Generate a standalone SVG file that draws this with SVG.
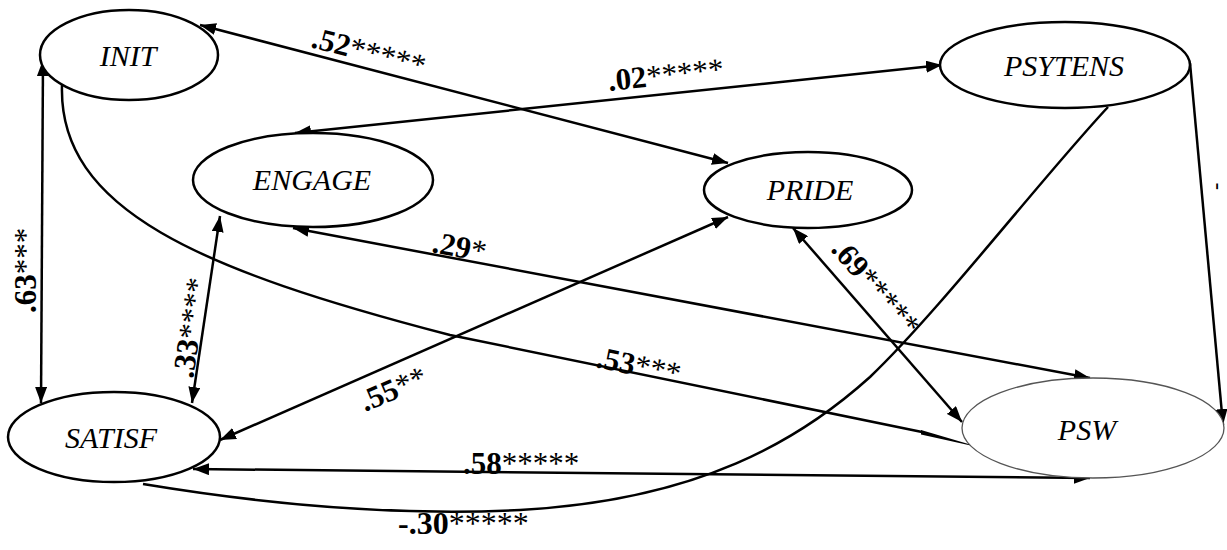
<svg xmlns="http://www.w3.org/2000/svg" width="1227" height="550" viewBox="0 0 1227 550">
<style>
.node{fill:#fff;stroke:#000;stroke-width:2.5}
.thin{fill:#fff;stroke:#555;stroke-width:1.3}
.nl{font-family:"Liberation Serif","Times New Roman",serif;font-style:italic;font-size:30px;fill:#000;text-anchor:middle}
.c{fill:none;stroke:#000;stroke-width:2.5}
.lb{font-family:"Liberation Serif","Times New Roman",serif;font-weight:bold;font-size:31px;fill:#000}
.st{font-weight:normal}
</style>
<defs>
<marker id="ah" markerUnits="userSpaceOnUse" markerWidth="17" markerHeight="12" refX="16" refY="6" orient="auto-start-reverse">
<path d="M0,0 L16,6 L0,12 z" fill="#000"/>
</marker>
</defs>
<g id="connectors">
<line class="c" x1="200" y1="25" x2="728" y2="163" marker-start="url(#ah)" marker-end="url(#ah)"/>
<line class="c" x1="295" y1="133" x2="942" y2="65" marker-start="url(#ah)" marker-end="url(#ah)"/>
<line class="c" x1="43" y1="60" x2="41" y2="403" marker-start="url(#ah)" marker-end="url(#ah)"/>
<path class="c" d="M62 85 C58 210 200 270 450 335 L922 432"/>
<polygon points="921,430 921,434.5 982,448" fill="#000"/>
<line class="c" x1="220" y1="216" x2="192" y2="403" marker-start="url(#ah)" marker-end="url(#ah)"/>
<line class="c" x1="728" y1="217" x2="220" y2="440" marker-start="url(#ah)" marker-end="url(#ah)"/>
<line class="c" x1="293" y1="228" x2="1090" y2="378" marker-start="url(#ah)" marker-end="url(#ah)"/>
<line class="c" x1="793" y1="228" x2="962" y2="422" marker-start="url(#ah)" marker-end="url(#ah)"/>
<path class="c" d="M143 484 C300 510 420 515 520 510 C700 500 800 440 870 377 C940 310 1040 180 1108 107"/>
<line class="c" x1="193" y1="469" x2="1090" y2="478" marker-start="url(#ah)" marker-end="url(#ah)"/>
<line class="c" x1="1190" y1="63" x2="1223" y2="425" marker-end="url(#ah)"/>
</g>
<g id="INIT"><ellipse class="node" cx="129" cy="55" rx="89" ry="45"/><text class="nl" x="128" y="66">INIT</text></g>
<g id="ENGAGE"><ellipse class="node" cx="313" cy="180" rx="120" ry="47"/><text class="nl" x="312" y="190">ENGAGE</text></g>
<g id="PRIDE"><ellipse class="node" cx="808" cy="190" rx="104" ry="38"/><text class="nl" x="810" y="200">PRIDE</text></g>
<g id="PSYTENS"><ellipse class="node" cx="1065" cy="65" rx="125" ry="43"/><text class="nl" x="1064" y="76">PSYTENS</text></g>
<g id="SATISF"><ellipse class="node" cx="114" cy="437" rx="106" ry="45"/><text class="nl" x="111" y="448">SATISF</text></g>
<g id="PSW"><ellipse class="thin" cx="1093" cy="428" rx="131" ry="50"/><text class="nl" x="1087" y="440">PSW</text></g>
<g id="labels">
<text class="lb" x="310" y="47" transform="rotate(14.6 310 47)">.52<tspan class="st">*****</tspan></text>
<text class="lb" x="609" y="91" transform="rotate(-6 609 91)">.02<tspan class="st">*****</tspan></text>
<text class="lb" x="36" y="313" transform="rotate(-90 36 313)">.63<tspan class="st">***</tspan></text>
<text class="lb" x="595" y="367" transform="rotate(11.5 595 367)">.53<tspan class="st">***</tspan></text>
<text class="lb" x="193" y="379" transform="rotate(-81.5 193 379)">.33<tspan class="st">****</tspan></text>
<text class="lb" x="365" y="412" transform="rotate(-23 365 412)">.55<tspan class="st">**</tspan></text>
<text class="lb" x="431" y="252" transform="rotate(10.6 431 252)">.29<tspan class="st">*</tspan></text>
<text class="lb" x="830" y="250" transform="rotate(49 830 250)">.69<tspan class="st">*****</tspan></text>
<text class="lb" x="398" y="534" style="font-size:32px">-.30<tspan class="st">*****</tspan></text>
<text class="lb" x="463" y="474">.58<tspan class="st">*****</tspan></text>
<text class="lb" x="1222" y="190" style="font-size:22px" transform="rotate(-90 1222 190)">-</text>
</g>
</svg>
